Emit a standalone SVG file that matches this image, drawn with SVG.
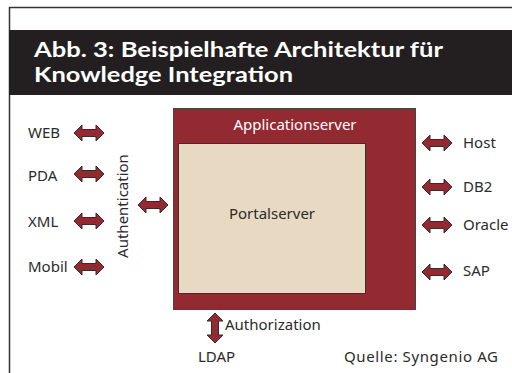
<svg xmlns="http://www.w3.org/2000/svg" width="512" height="373" viewBox="0 0 512 373">
<style>
.t{font-family:"Noto Sans","Open Sans",sans-serif;fill:#2b2b2b;font-size:15px}
.h{font-family:Lato,"Noto Sans",sans-serif;fill:#fff;font-size:20px;font-weight:bold}
.w{fill:#fff}
.arr{fill:#932a32;stroke:#3a2a2a;stroke-width:1}
</style>
<defs>
<path id="dh" class="arr" d="M-15,0 L-7,-8 L-7,-3.5 L7,-3.5 L7,-8 L15,0 L7,8 L7,3.5 L-7,3.5 L-7,8 Z"/>
</defs>
<rect x="0" y="0" width="512" height="373" fill="#fff"/>
<path d="M9.5,373 V7.5 H512" fill="none" stroke="#333" stroke-width="1.5"/>
<g id="title">
<rect x="9" y="30" width="503" height="65" fill="#231f20"/>
<text class="h" x="34" y="57" textLength="409" lengthAdjust="spacingAndGlyphs">Abb. 3: Beispielhafte Architektur für</text>
<text class="h" x="34" y="82" textLength="259" lengthAdjust="spacingAndGlyphs">Knowledge Integration</text>
</g>
<g id="applicationserver">
<rect x="173.5" y="108.5" width="242" height="201" fill="#932a32" stroke="#444" stroke-width="1"/>
<text class="t w" x="295" y="130" text-anchor="middle">Applicationserver</text>
</g>
<g id="portalserver">
<rect x="178.5" y="143.5" width="187" height="150" fill="#e8dac2" stroke="#333" stroke-width="1"/>
<text class="t" x="272" y="219" text-anchor="middle">Portalserver</text>
</g>
<g id="web"><text class="t" x="28" y="138">WEB</text></g>
<g id="pda"><text class="t" x="28" y="181">PDA</text></g>
<g id="xml"><text class="t" x="28" y="227">XML</text></g>
<g id="mobil"><text class="t" x="28" y="272">Mobil</text></g>
<g id="authentication"><text class="t" x="0" y="0" text-anchor="middle" transform="translate(128,206) rotate(-90)">Authentication</text></g>
<g id="host"><text class="t" x="463" y="148">Host</text></g>
<g id="db2"><text class="t" x="463" y="192">DB2</text></g>
<g id="oracle"><text class="t" x="463" y="230">Oracle</text></g>
<g id="sap"><text class="t" x="463" y="276">SAP</text></g>
<g id="ldap"><text class="t" x="198" y="362">LDAP</text></g>
<g id="source"><text class="t" x="344" y="362" textLength="154" lengthAdjust="spacing">Quelle: Syngenio  AG</text></g>
<g id="connectors">
<use href="#dh" x="89" y="133"/>
<use href="#dh" x="89" y="174"/>
<use href="#dh" x="89" y="221"/>
<use href="#dh" x="89" y="267"/>
<use href="#dh" x="153" y="205"/>
<use href="#dh" x="437" y="143"/>
<use href="#dh" x="437" y="187"/>
<use href="#dh" x="437" y="225"/>
<use href="#dh" x="437" y="272"/>
<use href="#dh" transform="translate(215,328) rotate(90)"/>
<text class="t" x="225" y="330">Authorization</text>
</g>
</svg>
